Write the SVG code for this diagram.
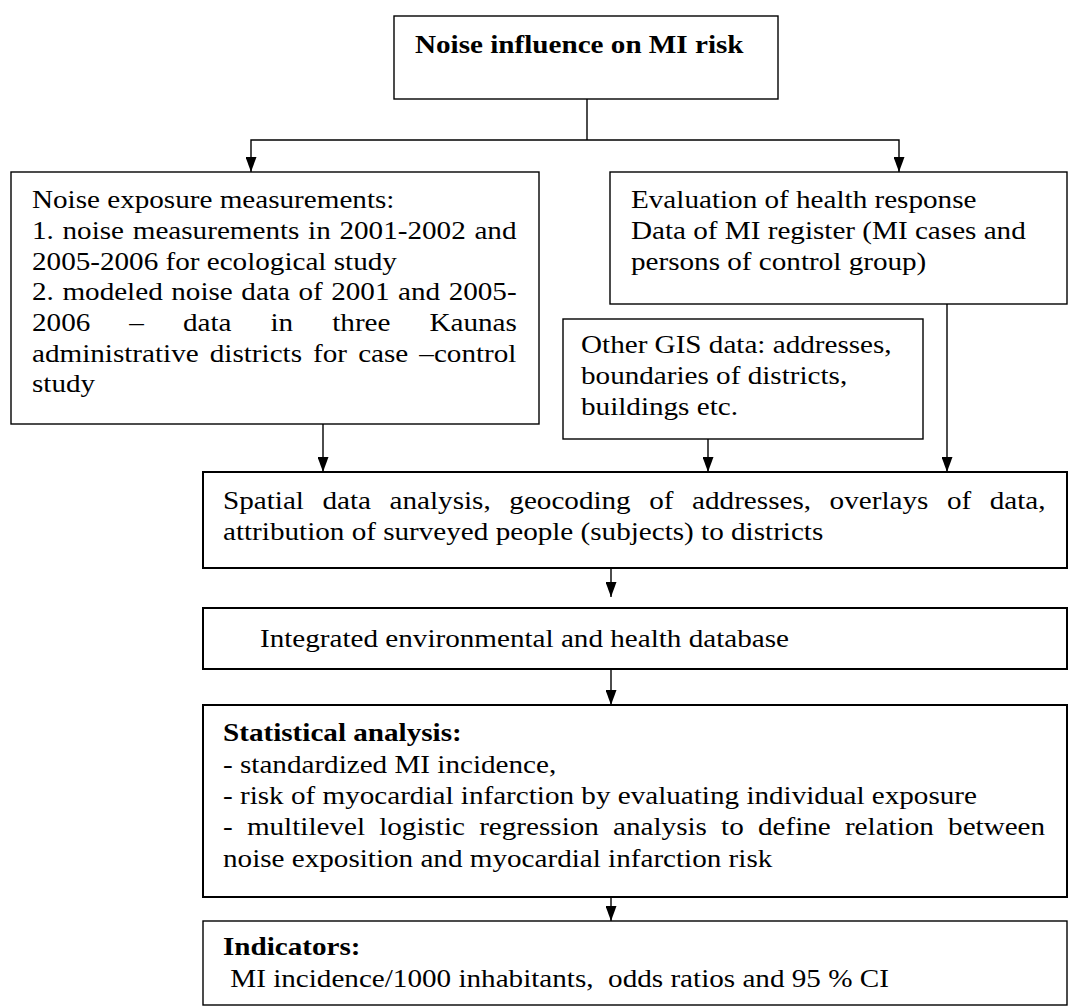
<svg xmlns="http://www.w3.org/2000/svg" width="1076" height="1008" viewBox="0 0 1076 1008">
<defs>
<style>
.box{fill:#fff;stroke:#000;stroke-width:1.4}
.box2{fill:#fff;stroke:#000;stroke-width:2}
.t{font-family:"Liberation Serif","Times New Roman",serif;font-size:24.5px;fill:#000}
.b{font-weight:bold}
.c{fill:none;stroke:#000;stroke-width:1.4}
</style>
<marker id="ah" markerUnits="userSpaceOnUse" markerWidth="15" markerHeight="11" refX="15" refY="5.5" orient="auto">
<path d="M0,0 L15,5.5 L0,11 z" fill="#000"/>
</marker>
</defs>
<rect width="1076" height="1008" fill="#fff"/>

<g id="connectors">
<path class="c" d="M587,99 V140"/>
<path class="c" d="M587,140 H251 V172" marker-end="url(#ah)"/>
<path class="c" d="M587,140 H899 V172" marker-end="url(#ah)"/>
<path class="c" d="M323,424 V472" marker-end="url(#ah)"/>
<path class="c" d="M708,439 V472" marker-end="url(#ah)"/>
<path class="c" d="M947,304 V472" marker-end="url(#ah)"/>
<path class="c" d="M611,568 V597" marker-end="url(#ah)"/>
<path class="c" d="M611,669 V705" marker-end="url(#ah)"/>
<path class="c" d="M611,897 V921" marker-end="url(#ah)"/>
</g>

<g id="node-title">
<rect class="box" x="394" y="16" width="384" height="83"/>
<text class="t b" transform="matrix(1.19 0 0 1 415 53)">Noise influence on MI risk</text>
</g>

<g id="node-noise-exposure">
<rect class="box" x="11" y="172" width="528" height="252"/>
<text class="t" transform="matrix(1.19 0 0 1 32 208)">Noise exposure measurements:</text>
<text class="t" transform="matrix(1.19 0 0 1 32 239)" word-spacing="1.2">1. noise measurements in 2001-2002 and</text>
<text class="t" transform="matrix(1.19 0 0 1 32 269.5)">2005-2006 for ecological study</text>
<text class="t" transform="matrix(1.19 0 0 1 32 300)" word-spacing="1.07">2. modeled noise data of 2001 and 2005-</text>
<text class="t" transform="matrix(1.19 0 0 1 32 331)" word-spacing="26.7">2006 – data in three Kaunas</text>
<text class="t" transform="matrix(1.19 0 0 1 32 361.5)" word-spacing="3.2">administrative districts for case –control</text>
<text class="t" transform="matrix(1.19 0 0 1 32 392)">study</text>
</g>

<g id="node-health-response">
<rect class="box" x="610" y="172" width="457" height="132"/>
<text class="t" transform="matrix(1.19 0 0 1 631 208)">Evaluation of health response</text>
<text class="t" transform="matrix(1.19 0 0 1 631 239)">Data of MI register (MI cases and</text>
<text class="t" transform="matrix(1.19 0 0 1 631 270)">persons of control group)</text>
</g>

<g id="node-gis">
<rect class="box" x="563" y="319" width="360" height="120"/>
<text class="t" transform="matrix(1.19 0 0 1 581 353)">Other GIS data: addresses,</text>
<text class="t" transform="matrix(1.19 0 0 1 581 384)">boundaries of districts,</text>
<text class="t" transform="matrix(1.19 0 0 1 581 415)">buildings etc.</text>
</g>

<g id="node-spatial">
<rect class="box2" x="203" y="472" width="864" height="96"/>
<text class="t" transform="matrix(1.19 0 0 1 223 509)" word-spacing="9.5">Spatial data analysis, geocoding of addresses, overlays of data,</text>
<text class="t" transform="matrix(1.19 0 0 1 223 540)">attribution of surveyed people (subjects) to districts</text>
</g>

<g id="node-database">
<rect class="box2" x="203" y="608" width="864" height="61"/>
<text class="t" transform="matrix(1.19 0 0 1 260 647)">Integrated environmental and health database</text>
</g>

<g id="node-statistics">
<rect class="box2" x="203" y="705" width="864" height="192"/>
<text class="t b" transform="matrix(1.19 0 0 1 223 741)">Statistical analysis:</text>
<text class="t" transform="matrix(1.19 0 0 1 223 773)">- standardized MI incidence,</text>
<text class="t" transform="matrix(1.19 0 0 1 223 804)">- risk of myocardial infarction by evaluating individual exposure</text>
<text class="t" transform="matrix(1.19 0 0 1 223 835)" word-spacing="5.8">- multilevel logistic regression analysis to define relation between</text>
<text class="t" transform="matrix(1.19 0 0 1 223 867)">noise exposition and myocardial infarction risk</text>
</g>

<g id="node-indicators">
<rect class="box" x="203" y="921" width="864" height="84"/>
<text class="t b" transform="matrix(1.19 0 0 1 223 955)">Indicators:</text>
<text class="t" transform="matrix(1.19 0 0 1 223 987)" style="white-space:pre"> MI incidence/1000 inhabitants,  odds ratios and 95 % CI</text>
</g>
</svg>
